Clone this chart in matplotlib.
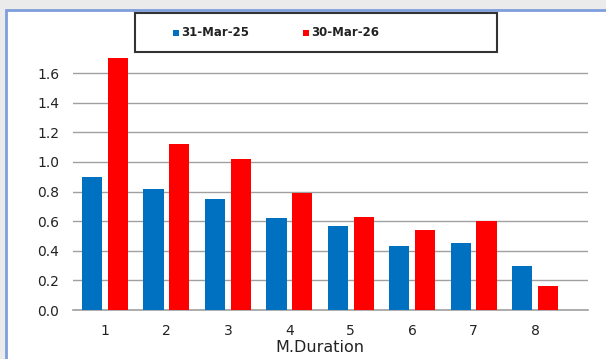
import numpy as np
import matplotlib.pyplot as plt
from matplotlib.patches import Rectangle

# data
durations = [1, 2, 3, 4, 5, 6, 7, 8]
mar25 = [0.90, 0.82, 0.75, 0.62, 0.57, 0.43, 0.45, 0.30]
mar26 = [1.70, 1.12, 1.02, 0.79, 0.63, 0.54, 0.60, 0.16]
series_names = ["31-Mar-25", "30-Mar-26"]
colors = ["#0070c0", "#ff0000"]

W, H = 606, 359
fig = plt.figure(figsize=(W / 100, H / 100), dpi=100, facecolor="#ebebeb")

# white panel with blue frame
fig.patches.append(Rectangle((6 / W, -0.01), 1, 1 - 10 / H + 0.01, transform=fig.transFigure,
                             facecolor="white", edgecolor="#7f9fdc", lw=2, zorder=-10))

ax = fig.add_axes([73 / W, 1 - 310 / H, (588 - 73) / W, (310 - 43.4) / H])
ax.set_facecolor("white")

x = np.array(durations)
ax.bar(x - 0.21, mar25, width=0.33, color=colors[0], zorder=3)
ax.bar(x + 0.21, mar26, width=0.33, color=colors[1], zorder=3)

ax.set_xlim(0.48, 8.86)
ax.set_ylim(0, 1.8)
ax.set_yticks(np.arange(0, 1.61, 0.2))
ax.set_yticklabels([f"{v:.1f}" for v in np.arange(0, 1.61, 0.2)])
ax.set_xticks(durations)
ax.yaxis.grid(True, color="#a0a0a0", lw=1.0)
ax.set_axisbelow(True)
for s in ["left", "right", "top"]:
    ax.spines[s].set_visible(False)
ax.spines["bottom"].set_color("#a0a0a0")
ax.spines["bottom"].set_linewidth(1.2)
ax.tick_params(axis="both", length=0, labelsize=10, colors="#222222")
ax.tick_params(axis="x", pad=10)
ax.tick_params(axis="y", pad=10)

fig.text(320 / W, 1 - 347 / H, "M.Duration", ha="center", va="center",
         fontsize=11.5, color="#222222")

# legend box
fig.patches.append(Rectangle((135 / W, 1 - 52 / H), (497 - 135) / W, 39 / H,
                             transform=fig.transFigure, facecolor="white",
                             edgecolor="#333333", lw=1.5, zorder=5))
for px, name, c in [(176, series_names[0], colors[0]), (306, series_names[1], colors[1])]:
    fig.patches.append(Rectangle((px / W - 3 / W, 1 - 36 / H), 6 / W, 6 / H,
                                 transform=fig.transFigure, facecolor=c,
                                 edgecolor="none", zorder=6))
    fig.text((px + 5) / W, 1 - 32.5 / H, name, ha="left", va="center",
             fontsize=8.5, fontweight="bold", color="#222222", zorder=7)

fig.savefig("out.png", dpi=100, facecolor=fig.get_facecolor())
